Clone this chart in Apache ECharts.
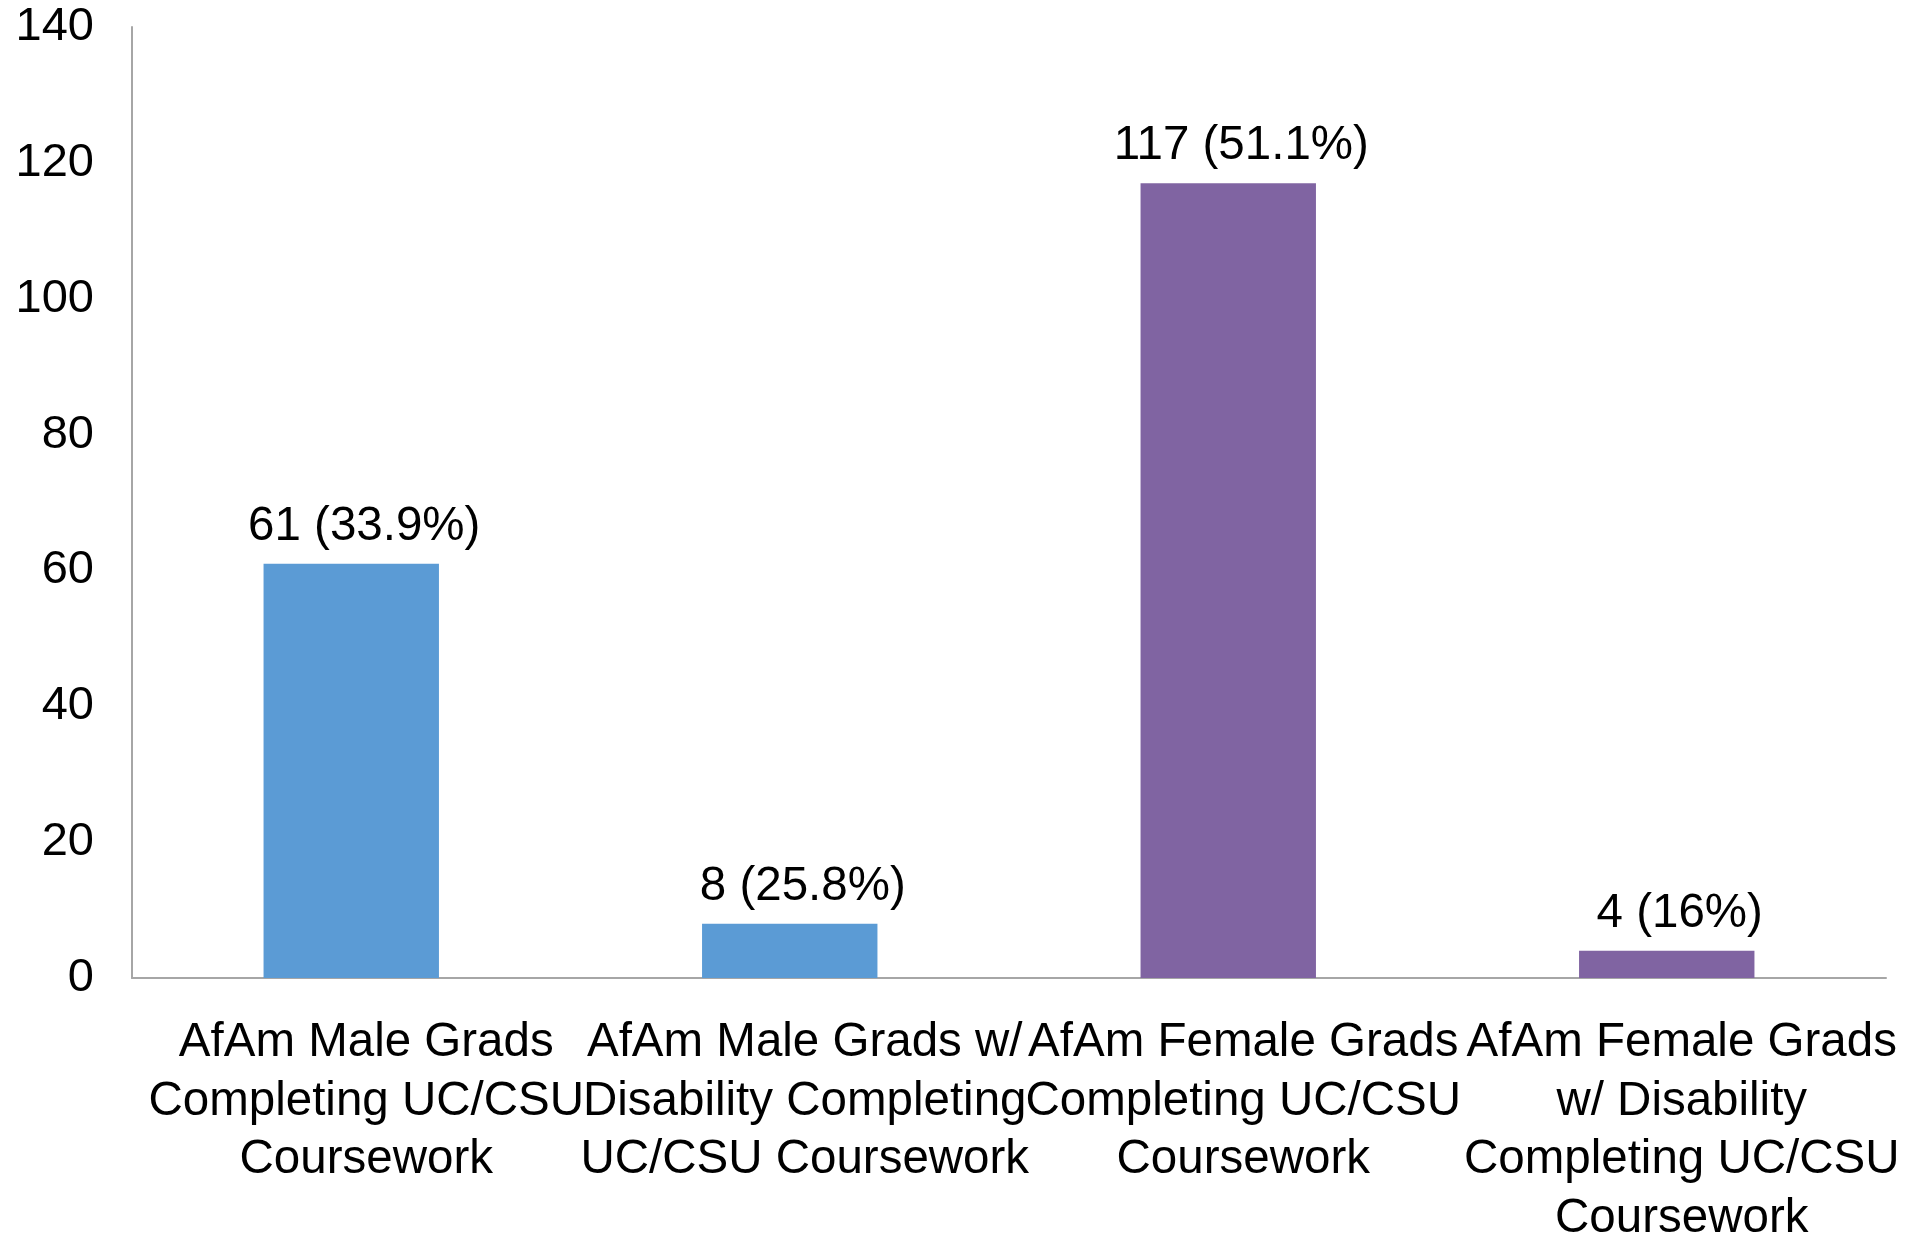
<!DOCTYPE html>
<html>
<head>
<meta charset="utf-8">
<script src="https://cdn.jsdelivr.net/npm/echarts@6/dist/echarts.min.js"></script>
<style>
  html, body { margin: 0; padding: 0; background: #ffffff; }
  #chart { width: 1923px; height: 1236px; }
</style>
</head>
<body>
<div id="chart"></div>
<script>
const categories = [
  "AfAm Male Grads\nCompleting UC/CSU\nCoursework",
  "AfAm Male Grads w/\nDisability Completing\nUC/CSU Coursework",
  "AfAm Female Grads\nCompleting UC/CSU\nCoursework",
  "AfAm Female Grads\nw/ Disability\nCompleting UC/CSU\nCoursework"
];
const counts = [61, 8, 117, 4];
const percents = ["33.9", "25.8", "51.1", "16"];
const barColors = ["#5B9BD5", "#5B9BD5", "#8064A2", "#8064A2"];
const yTicks = { min: 0, max: 140, interval: 20 };

const FONT = "'Liberation Sans', Arial, sans-serif";
const chart = echarts.init(document.getElementById('chart'));
chart.setOption({
  backgroundColor: '#ffffff',
  animation: false,
  grid: { left: 132, right: 37, top: 27, bottom: 258, containLabel: false, outerBoundsMode: 'none' },
  xAxis: {
    type: 'category',
    data: categories,
    axisLine: { show: true, lineStyle: { color: '#a6a6a6', width: 2 } },
    axisTick: { show: false },
    axisLabel: {
      interval: 0,
      hideOverlap: false,
      color: '#000000',
      fontFamily: FONT,
      fontSize: 47.5,
      lineHeight: 58.5,
      margin: 36,
      align: 'center',
      padding: [0, 0, 0, 30]
    }
  },
  yAxis: {
    type: 'value',
    min: yTicks.min,
    max: yTicks.max,
    interval: yTicks.interval,
    axisLine: { show: true, lineStyle: { color: '#a6a6a6', width: 2 } },
    axisTick: { show: false },
    splitLine: { show: false },
    axisLabel: {
      color: '#000000',
      fontFamily: FONT,
      fontSize: 47,
      margin: 38
    }
  },
  series: [{
    type: 'bar',
    barWidth: '40%',
    data: counts.map((v, i) => ({ value: v, itemStyle: { color: barColors[i] } })),
    label: {
      show: true,
      position: 'top',
      distance: 13,
      offset: [13, 0],
      color: '#000000',
      fontFamily: FONT,
      fontSize: 47.5,
      formatter: p => p.value + ' (' + percents[p.dataIndex] + '%)'
    }
  }]
});
</script>
</body>
</html>
